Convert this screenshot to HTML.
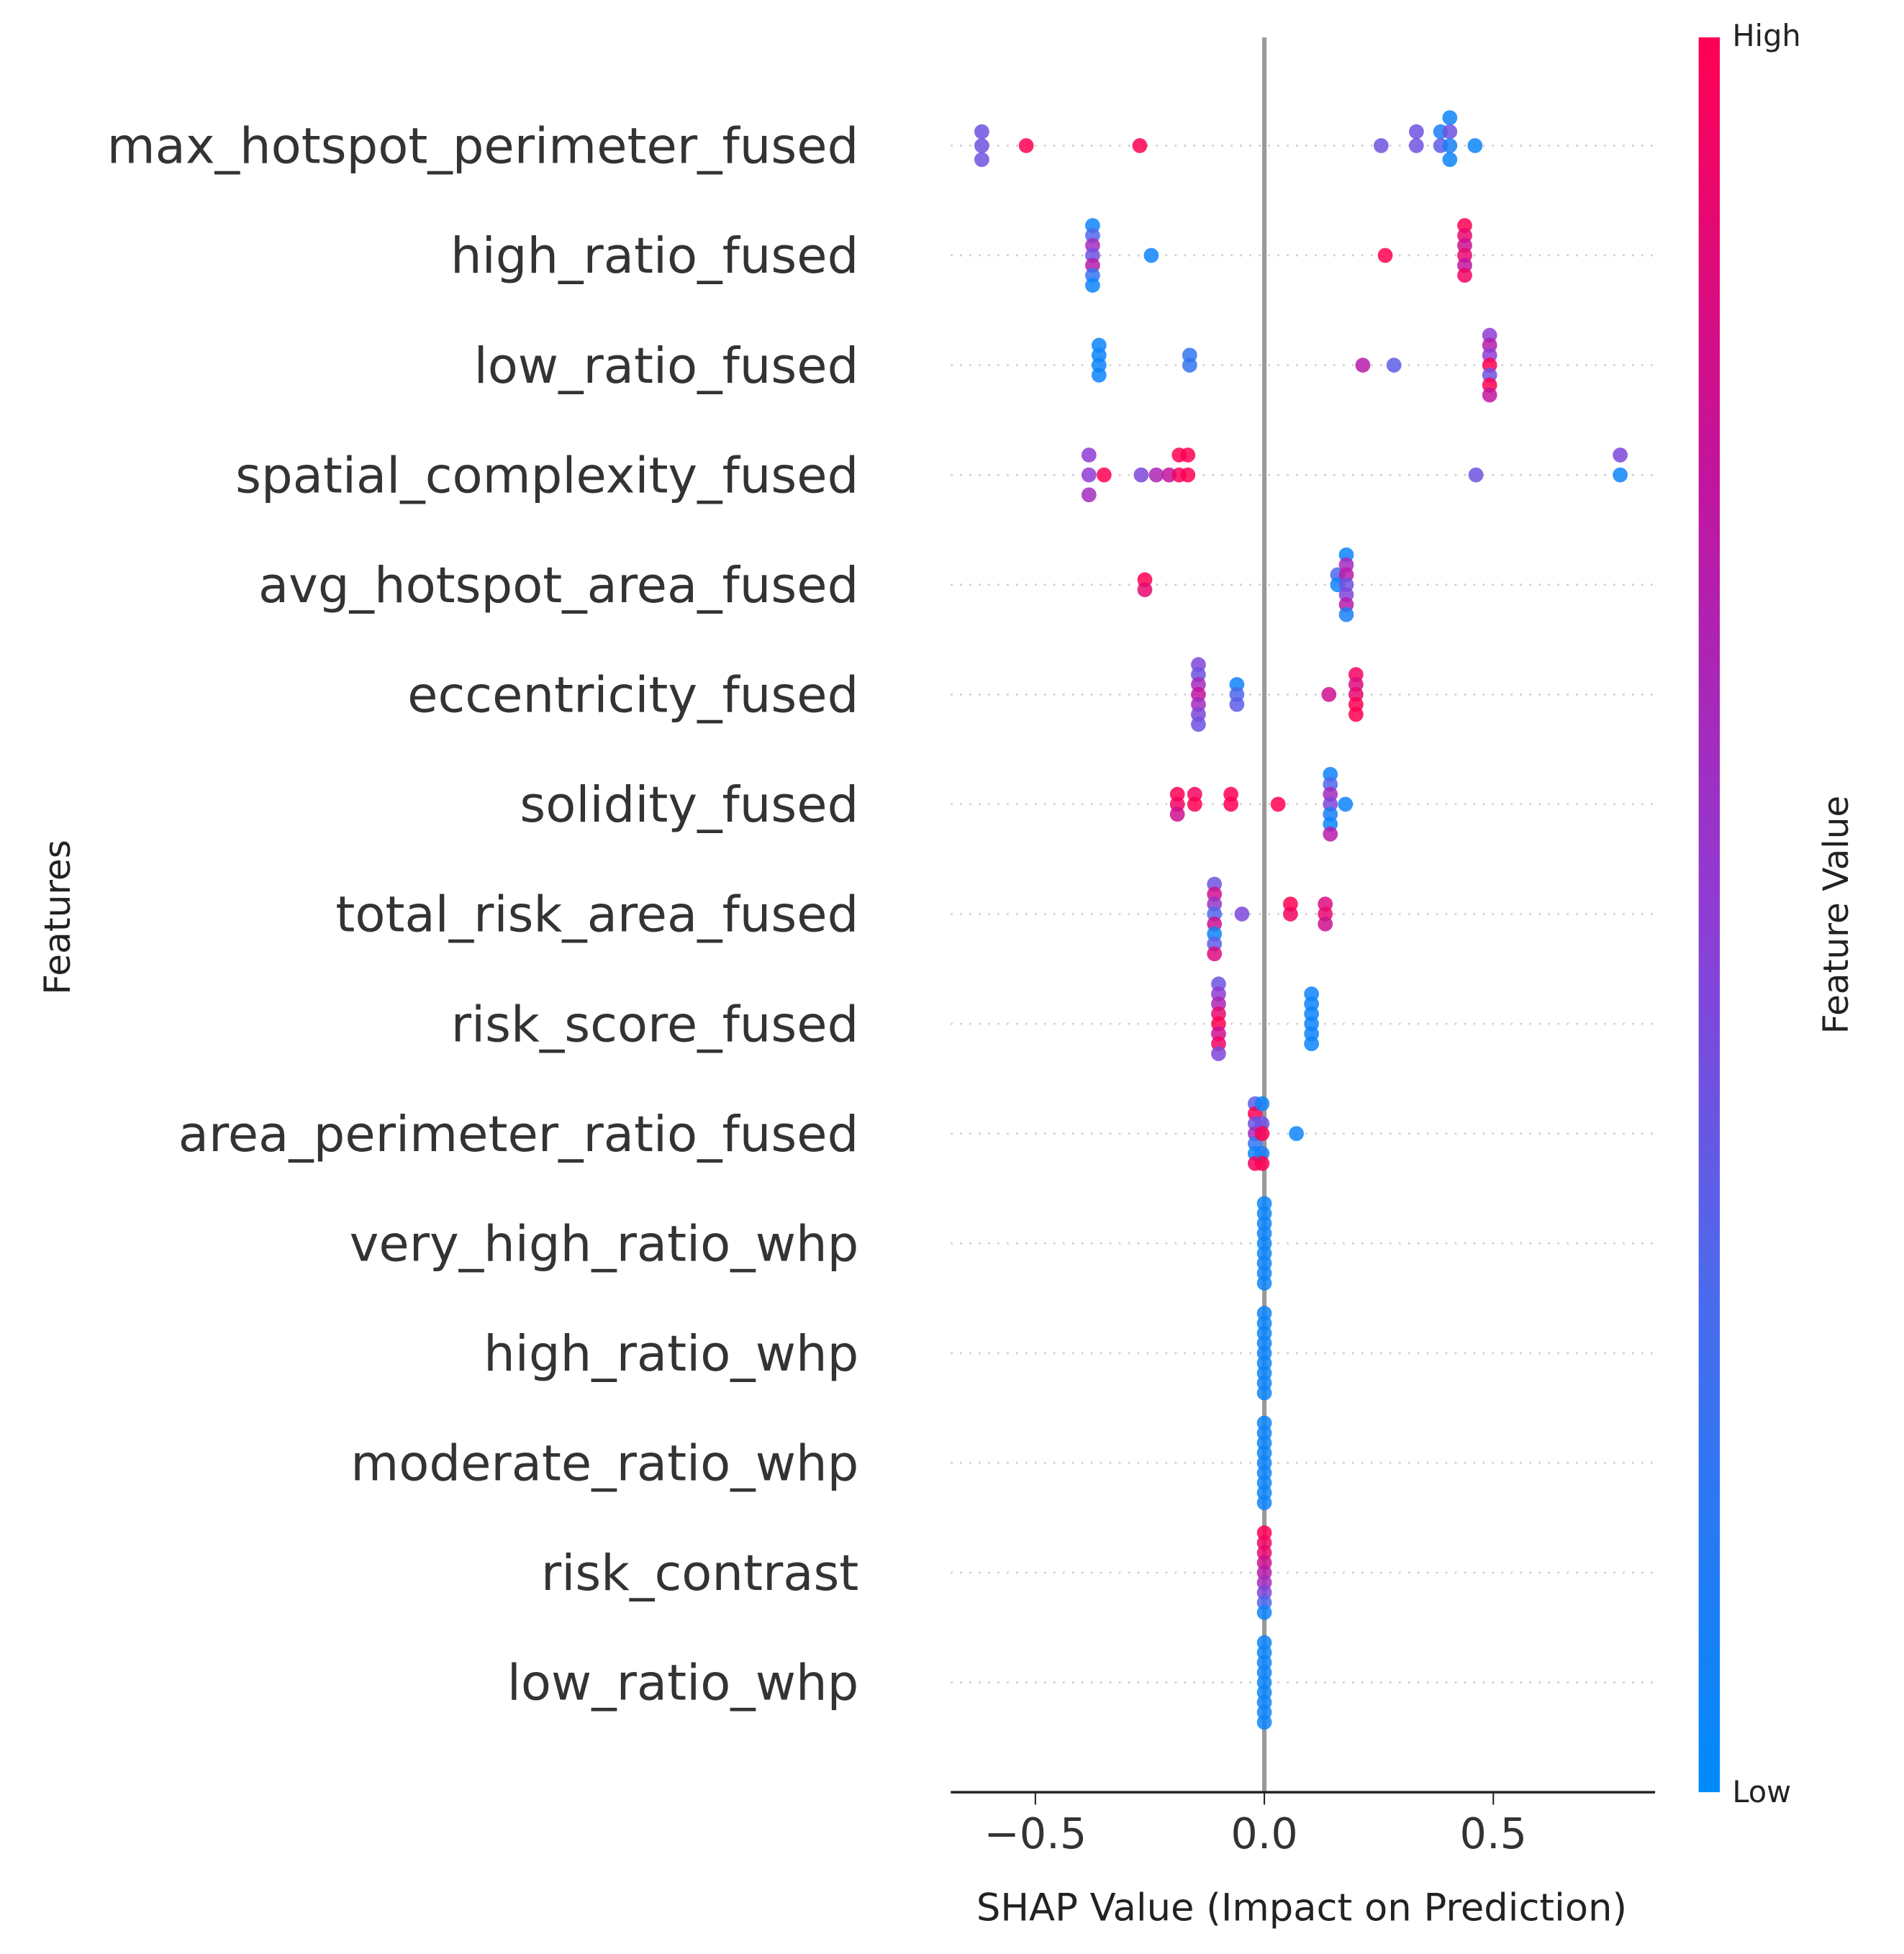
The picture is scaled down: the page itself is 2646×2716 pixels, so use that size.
<!DOCTYPE html>
<html><head><meta charset="utf-8"><style>
html,body{margin:0;padding:0;background:#fff;}
svg{display:block;font-family:"DejaVu Sans","Liberation Sans",sans-serif;}
</style></head><body>
<svg id="chart" width="2646" height="2716" viewBox="0 0 1530 1570" preserveAspectRatio="none" xmlns="http://www.w3.org/2000/svg">
<defs>
<linearGradient id="cbar" x1="0" y1="1" x2="0" y2="0">
<stop offset="0" stop-color="#008bfb"/><stop offset="0.3" stop-color="#4f68ec"/><stop offset="0.5" stop-color="#8e3cd4"/><stop offset="0.75" stop-color="#c2149e"/><stop offset="1" stop-color="#ff0052"/>
</linearGradient>
</defs>
<g id="grid"></g>
<line x1="1016" y1="30" x2="1016" y2="1440" stroke="#999" stroke-width="3.5"/>
<g id="dots"></g>
<g id="labels"></g>
<line x1="764" y1="1440" x2="1330" y2="1440" stroke="#222" stroke-width="2"/>
<g id="xticks"></g>
<text x="1046" y="1543" font-size="30.5" text-anchor="middle" fill="#222">SHAP Value (Impact on Prediction)</text>
<text transform="translate(56,737) rotate(-90)" font-size="29" text-anchor="middle" fill="#222">Features</text>
<rect x="1365" y="30" width="17" height="1410" fill="url(#cbar)"/>
<text x="1392" y="37" font-size="24" fill="#222">High</text>
<text x="1392" y="1448" font-size="24" fill="#222">Low</text>
<text transform="translate(1485,735) rotate(-90)" font-size="28" text-anchor="middle" fill="#222">Feature Value</text>
</svg>
<script>
const features = ["max_hotspot_perimeter_fused","high_ratio_fused","low_ratio_fused","spatial_complexity_fused","avg_hotspot_area_fused","eccentricity_fused","solidity_fused","total_risk_area_fused","risk_score_fused","area_perimeter_ratio_fused","very_high_ratio_whp","high_ratio_whp","moderate_ratio_whp","risk_contrast","low_ratio_whp"];
const xTicks = [-0.5, 0.0, 0.5];
const xTickLabels = ["\u22120.5","0.0","0.5"];
// each point: [rowIndex, shapValue, stackIndex, featureValue(0 low..1 high)]
const points = [
[0,-0.617,-1.4,0.4],[0,-0.617,0,0.4],[0,-0.617,1.4,0.4],[0,-0.52,0,1],[0,-0.272,0,1],[0,0.255,0,0.4],[0,0.332,-1.4,0.4],[0,0.332,0,0.4],
[0,0.385,-1.4,0.1],[0,0.385,0,0.35],[0,0.405,-2.8,0.05],[0,0.405,-1.4,0.4],[0,0.405,0,0.1],[0,0.405,1.4,0.05],[0,0.46,0,0.05],
[1,-0.375,-3,0.05],[1,-0.375,-2,0.3],[1,-0.375,-1,0.6],[1,-0.375,0,0.4],[1,-0.375,1,0.7],[1,-0.375,2,0.2],[1,-0.375,3,0.05],[1,-0.247,0,0.05],[1,0.264,0,1],
[1,0.4375,-3,1],[1,0.4375,-2,0.9],[1,0.4375,-1,0.8],[1,0.4375,0,0.9],[1,0.4375,1,0.75],[1,0.4375,2,0.95],
[2,-0.361,-2,0.05],[2,-0.361,-1,0.05],[2,-0.361,0,0.05],[2,-0.361,1,0.05],[2,-0.163,-1,0.2],[2,-0.163,0,0.2],[2,0.215,0,0.7],[2,0.283,0,0.35],
[2,0.492,-3,0.5],[2,0.492,-2,0.7],[2,0.492,-1,0.5],[2,0.492,0,1],[2,0.492,1,0.4],[2,0.492,2,1],[2,0.492,3,0.75],
[3,-0.383,-2,0.5],[3,-0.383,0,0.5],[3,-0.383,2,0.6],[3,-0.35,0,1],[3,-0.269,0,0.45],[3,-0.236,0,0.65],[3,-0.208,0,0.75],[3,-0.186,-2,1],[3,-0.186,0,0.95],[3,-0.167,-2,1],[3,-0.167,0,1],[3,0.462,0,0.4],[3,0.777,-2,0.45],[3,0.777,0,0.05],
[4,-0.261,-0.5,1],[4,-0.261,0.5,0.9],[4,0.16,-1,0.3],[4,0.16,0,0.05],
[4,0.179,-3,0.05],[4,0.179,-2,0.6],[4,0.179,-1,0.7],[4,0.179,0,0.4],[4,0.179,1,0.45],[4,0.179,2,0.7],[4,0.179,3,0.1],
[5,-0.144,-3,0.45],[5,-0.144,-2,0.4],[5,-0.144,-1,0.6],[5,-0.144,0,0.75],[5,-0.144,1,0.6],[5,-0.144,2,0.45],[5,-0.144,3,0.4],
[5,-0.06,-1,0.05],[5,-0.06,0,0.3],[5,-0.06,1,0.35],[5,0.141,0,0.8],
[5,0.2,-2,0.95],[5,0.2,-1,0.85],[5,0.2,0,0.9],[5,0.2,1,1],[5,0.2,2,1],
[6,-0.19,-1,1],[6,-0.19,0,0.95],[6,-0.19,1,0.8],[6,-0.152,-1,0.95],[6,-0.152,0,1],[6,-0.073,-1,1],[6,-0.073,0,1],[6,0.03,0,1],
[6,0.144,-3,0.05],[6,0.144,-2,0.3],[6,0.144,-1,0.6],[6,0.144,0,0.45],[6,0.144,1,0.1],[6,0.144,2,0.05],[6,0.144,3,0.7],[6,0.177,0,0.05],
[7,-0.109,-3,0.4],[7,-0.109,-2,0.8],[7,-0.109,-1,0.55],[7,-0.109,0,0.3],[7,-0.109,1,0.8],[7,-0.109,2,0.05],[7,-0.109,3,0.35],[7,-0.109,4,0.85],
[7,-0.049,0,0.45],[7,0.057,-1,1],[7,0.057,0,0.95],[7,0.133,-1,0.85],[7,0.133,0,0.9],[7,0.133,1,0.8],
[8,-0.1,-4,0.4],[8,-0.1,-3,0.5],[8,-0.1,-2,0.65],[8,-0.1,-1,0.9],[8,-0.1,0,1],[8,-0.1,1,0.8],[8,-0.1,2,0.95],[8,-0.1,3,0.45],
[8,0.103,-3,0.05],[8,0.103,-2,0.05],[8,0.103,-1,0.05],[8,0.103,0,0.05],[8,0.103,1,0.05],[8,0.103,2,0.05],
[9,-0.02,-3,0.35],[9,-0.02,-2,1],[9,-0.02,-1,0.4],[9,-0.02,0,0.6],[9,-0.02,1,0.2],[9,-0.02,2,0.05],[9,-0.02,3,0.95],
[9,-0.005,-3,0.05],[9,-0.005,-1,0.4],[9,-0.005,0,1],[9,-0.005,2,0.1],[9,-0.005,3,1],[9,0.07,0,0.05],
[10,0,-4,0.05],[10,0,-3,0.05],[10,0,-2,0.05],[10,0,-1,0.05],[10,0,0,0.05],[10,0,1,0.05],[10,0,2,0.05],[10,0,3,0.05],[10,0,4,0.05],
[11,0,-4,0.05],[11,0,-3,0.05],[11,0,-2,0.05],[11,0,-1,0.05],[11,0,0,0.05],[11,0,1,0.05],[11,0,2,0.05],[11,0,3,0.05],[11,0,4,0.05],
[12,0,-4,0.05],[12,0,-3,0.05],[12,0,-2,0.05],[12,0,-1,0.05],[12,0,0,0.05],[12,0,1,0.05],[12,0,2,0.05],[12,0,3,0.05],[12,0,4,0.05],
[13,0,-4,1],[13,0,-3,0.95],[13,0,-2,0.9],[13,0,-1,0.8],[13,0,0,0.7],[13,0,1,0.6],[13,0,2,0.45],[13,0,3,0.3],[13,0,4,0.05],
[14,0,-4,0.05],[14,0,-3,0.05],[14,0,-2,0.05],[14,0,-1,0.05],[14,0,0,0.05],[14,0,1,0.05],[14,0,2,0.05],[14,0,3,0.05],[14,0,4,0.05]
];
const NS = "http://www.w3.org/2000/svg";
const xScale = v => 1016 + v * 368;
const yScale = i => 117 + i * 88.2;
const stops = [[0,[0,139,251]],[0.3,[79,104,236]],[0.5,[142,60,212]],[0.75,[194,20,158]],[1,[255,0,82]]];
function colorOf(t){
  for(let k=1;k<stops.length;k++){
    if(t<=stops[k][0]){
      const a=stops[k-1],b=stops[k],f=(t-a[0])/(b[0]-a[0]);
      const c=a[1].map((v,j)=>Math.round(v+(b[1][j]-v)*f));
      return "rgb("+c.join(",")+")";
    }
  }
  return "rgb(255,0,82)";
}
const grid = document.getElementById("grid");
const labels = document.getElementById("labels");
features.forEach((f,i)=>{
  const ln = document.createElementNS(NS,"line");
  
  
  ln.setAttribute("x1",764); ln.setAttribute("x2",1330);
  ln.setAttribute("y1",yScale(i)); ln.setAttribute("y2",yScale(i));
  ln.setAttribute("stroke","#ccc"); ln.setAttribute("stroke-width","1.5"); ln.setAttribute("stroke-dasharray","1.5 6");
  grid.appendChild(ln);
  const t = document.createElementNS(NS,"text");
  
  
  t.setAttribute("x",690); t.setAttribute("y",yScale(i)+14);
  t.setAttribute("font-size","39.8"); t.setAttribute("text-anchor","end"); t.setAttribute("fill","#333");
  t.textContent = f;
  labels.appendChild(t);
});
const dots = document.getElementById("dots");
points.forEach(p=>{
  const c = document.createElementNS(NS,"circle");
  
  
  c.setAttribute("cx",xScale(p[1])); c.setAttribute("cy",yScale(p[0])+p[2]*8);
  c.setAttribute("r",6); c.setAttribute("fill",colorOf(p[3])); c.setAttribute("fill-opacity","0.85");
  dots.appendChild(c);
});
const xt = document.getElementById("xticks");
xTicks.forEach((v,k)=>{
  const l = document.createElementNS(NS,"line");
  
  
  l.setAttribute("x1",xScale(v)); l.setAttribute("x2",xScale(v)); l.setAttribute("y1",1440); l.setAttribute("y2",1450);
  l.setAttribute("stroke","#222"); l.setAttribute("stroke-width","1.2");
  xt.appendChild(l);
  const t = document.createElementNS(NS,"text");
  
  
  t.setAttribute("x",xScale(v)); t.setAttribute("y",1485);
  t.setAttribute("font-size","34"); t.setAttribute("text-anchor","middle"); t.setAttribute("fill","#333");
  t.textContent = xTickLabels[k];
  xt.appendChild(t);
});
</script>
</body></html>
